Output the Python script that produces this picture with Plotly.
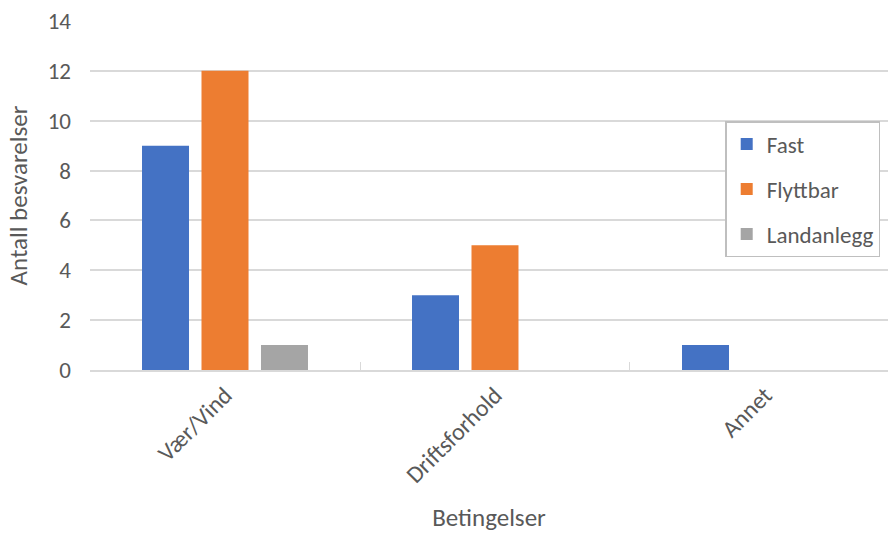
import plotly.graph_objects as go

categories = ["Vær/Vind", "Driftsforhold", "Annet"]
fast = [9, 3, 1]
flyttbar = [12, 5, 0]
landanlegg = [1, 0, 0]
series_names = ["Fast", "Flyttbar", "Landanlegg"]
colors = ["#4472C4", "#ED7D31", "#A5A5A5"]
y_ticks = [0, 2, 4, 6, 8, 10, 12, 14]

FONT = "Calibri, Carlito, Lato, 'Open Sans', sans-serif"
TXT = "#595959"

fig = go.Figure()
for i, (name, vals) in enumerate(zip(series_names, [fast, flyttbar, landanlegg])):
    fig.add_trace(go.Bar(
        x=categories, y=vals, name=name, marker_color=colors[i],
        marker_line_width=0, legendgroup=name,
    ))

fig.update_layout(
    width=888, height=533,
    margin=dict(l=90, r=0, t=21, b=163),
    paper_bgcolor="white", plot_bgcolor="white",
    barmode="group", bargap=0.339, bargroupgap=0.21,
    font=dict(family=FONT, size=23, color=TXT),
    legend=dict(
        x=0.796, y=0.713, xanchor="left", yanchor="top",
        bordercolor="#BFBFBF", borderwidth=1.5, bgcolor="white",
        font=dict(size=23, color=TXT),
        tracegroupgap=12, traceorder="grouped",
        itemwidth=30,
    ),
    xaxis=dict(
        range=[-0.5, 2.4556], type="category",
        tickangle=-45, tickfont=dict(size=24, color=TXT),
        ticks="inside", tickson="boundaries", ticklen=8,
        tickcolor="#D9D9D9", tickwidth=1.3,
        showline=True, linecolor="#D9D9D9", linewidth=1.5,
        showgrid=False, zeroline=False,
        title=dict(text="Betingelser", font=dict(size=25, color=TXT), standoff=26),
    ),
    yaxis=dict(
        range=[0, 14], tickvals=y_ticks,
        tickfont=dict(size=23, color=TXT),
        showgrid=True, gridcolor="#D9D9D9", gridwidth=1.5,
        zeroline=False, showline=False,
        ticklabelstandoff=18,
        title=dict(text="Antall besvarelser", font=dict(size=25, color=TXT), standoff=12),
    ),
)

fig.write_html("out.html", config={"displayModeBar": False},
               post_script="document.body.style.margin='0';")
